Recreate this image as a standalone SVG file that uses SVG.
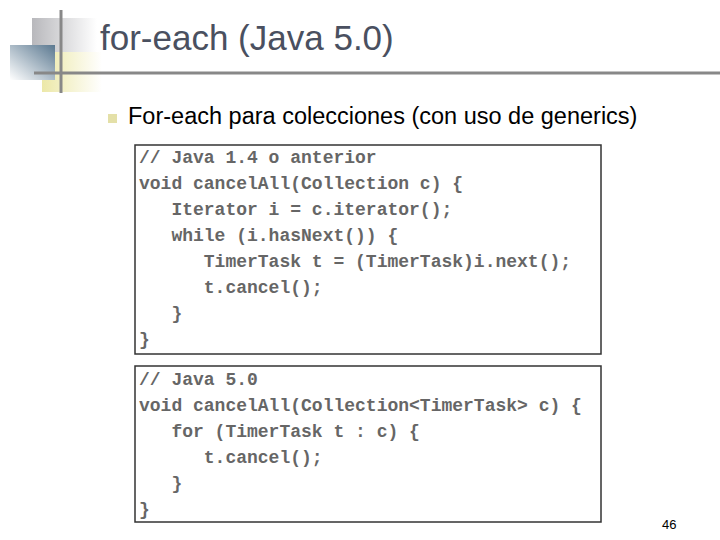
<svg xmlns="http://www.w3.org/2000/svg" width="720" height="540" viewBox="0 0 720 540">
<defs>
<linearGradient id="gy" x1="0" y1="0" x2="1" y2="0"><stop offset="0" stop-color="#b8b8bc"/><stop offset="1" stop-color="#fff"/></linearGradient>
<linearGradient id="yl" x1="0" y1="0" x2="1" y2="0"><stop offset="0" stop-color="#ece8a8"/><stop offset="1" stop-color="#fff"/></linearGradient>
<linearGradient id="bl" x1="1" y1="0" x2="0" y2="1"><stop offset="0" stop-color="#5a7890"/><stop offset="1" stop-color="#fff"/></linearGradient>
<style>
.code{font-family:"Liberation Mono",monospace;font-weight:bold;font-size:18px;fill:#666}
.box{fill:#fff;stroke:#333;stroke-width:1.5}
</style>
</defs>
<rect width="720" height="540" fill="#fff"/>
<g id="logo">
<rect x="32" y="18" width="65" height="60" fill="url(#gy)"/>
<rect x="42" y="52" width="60" height="40" fill="url(#yl)"/>
<rect x="10" y="45" width="45" height="35" fill="url(#bl)"/>
<line x1="61" y1="10" x2="61" y2="93" stroke="#888" stroke-width="3"/>
<line x1="34" y1="73" x2="720" y2="73" stroke="#888" stroke-width="3"/>
</g>
<text x="100" y="50" font-family="Liberation Sans,sans-serif" font-size="35" fill="#4a5060">for-each (Java 5.0)</text>
<rect x="108" y="114" width="9" height="9" fill="#e4e0a8"/>
<text x="128" y="124" font-family="Liberation Sans,sans-serif" font-size="23.5" fill="#000">For-each para colecciones (con uso de generics)</text>
<g id="box1">
<rect class="box" x="135" y="145" width="466" height="209"/>
<text class="code" x="139" y="163" xml:space="preserve">// Java 1.4 o anterior</text>
<text class="code" x="139" y="189" xml:space="preserve">void cancelAll(Collection c) {</text>
<text class="code" x="139" y="215" xml:space="preserve">   Iterator i = c.iterator();</text>
<text class="code" x="139" y="241" xml:space="preserve">   while (i.hasNext()) {</text>
<text class="code" x="139" y="267" xml:space="preserve">      TimerTask t = (TimerTask)i.next();</text>
<text class="code" x="139" y="293" xml:space="preserve">      t.cancel();</text>
<text class="code" x="139" y="319" xml:space="preserve">   }</text>
<text class="code" x="139" y="345" xml:space="preserve">}</text>
</g>
<g id="box2">
<rect class="box" x="135" y="366" width="466" height="156"/>
<text class="code" x="139" y="385" xml:space="preserve">// Java 5.0</text>
<text class="code" x="139" y="411" xml:space="preserve">void cancelAll(Collection&lt;TimerTask&gt; c) {</text>
<text class="code" x="139" y="437" xml:space="preserve">   for (TimerTask t : c) {</text>
<text class="code" x="139" y="463" xml:space="preserve">      t.cancel();</text>
<text class="code" x="139" y="489" xml:space="preserve">   }</text>
<text class="code" x="139" y="515" xml:space="preserve">}</text>
</g>
<text x="662" y="529" font-family="Liberation Sans,sans-serif" font-size="13" fill="#000">46</text>
</svg>
